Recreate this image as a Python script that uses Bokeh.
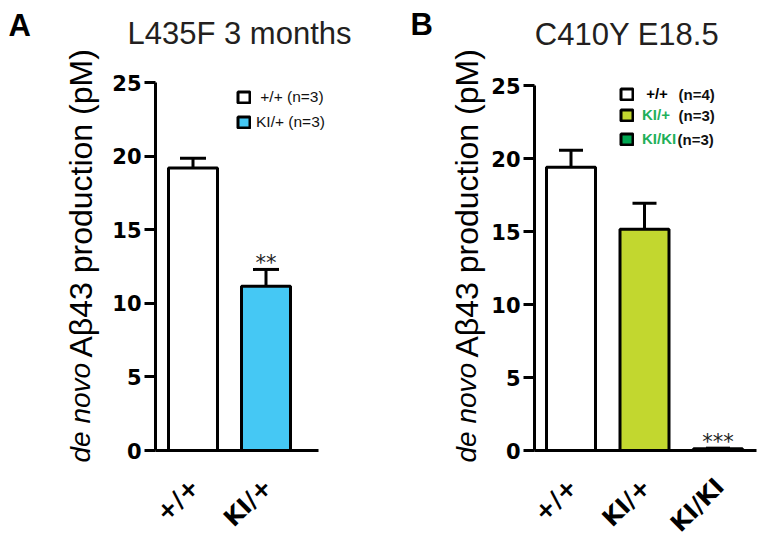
import math
from bokeh.plotting import figure
from bokeh.models import (ColumnDataSource, Range1d, FixedTicker, Whisker, TeeHead,
                          Label, LabelSet, Legend, LegendItem, LinearAxis)
from bokeh.layouts import row
from bokeh.core.properties import value
from bokeh.embed import file_html
from bokeh.resources import INLINE

# ---------------- data ----------------
a_letter = "A"
a_title = "L435F 3 months"
a_genotypes = ["+/+", "KI/+"]
a_means = [19.2, 11.15]
a_sems = [0.65, 1.15]
a_ns = [3, 3]
a_stars = ["", "**"]
a_colors = ["#ffffff", "#45c8f4"]

b_letter = "B"
b_title = "C410Y E18.5"
b_genotypes = ["+/+", "KI/+", "KI/KI"]
b_means = [19.4, 15.15, 0.12]
b_sems = [1.17, 1.78, 0.04]
b_ns = [4, 3, 3]
b_stars = ["", "", "***"]
b_colors = ["#ffffff", "#c2d72f", "#00a651"]
b_text_colors = ["#000000", "#1fb05a", "#1fb05a"]

y_ticks = [0, 5, 10, 15, 20, 25]
y_min, y_max = 0, 25
y_label_italic = "de novo"
y_label_rest = "A\u03b243 production (pM)"

SANS = "Liberation Sans"
WIDE = "DejaVu Sans"
H = 540


class Panel:
    """Figure whose frame is the whole canvas; axes are fixed inside it."""

    def __init__(self, width, cx0, ux, y0, uy, axis_px, xaxis_end_px):
        self.width, self.ux, self.uy = width, ux, uy
        self.x_start = -cx0 / ux
        self.y_top = y0 / uy
        self.p = figure(width=width, height=H, output_backend="svg", toolbar_location=None,
                        x_range=Range1d(self.x_start, self.x_start + width / ux),
                        y_range=Range1d(self.y_top - H / uy, self.y_top),
                        x_axis_type=None, y_axis_type=None,
                        min_border=0, min_border_left=0, min_border_right=0,
                        min_border_top=0, min_border_bottom=0)
        p = self.p
        p.outline_line_color = None
        p.grid.visible = False
        p.background_fill_color = "white"
        p.border_fill_color = "white"
        self.axis_x = self.X(axis_px)
        self.xaxis_end = self.X(xaxis_end_px)

    def X(self, px):
        return self.x_start + px / self.ux

    def Y(self, py):
        return self.y_top - py / self.uy


def build(panel, letter, title, genos, means, sems, stars, colors,
          letter_px, title_px, ylab_px, cap):
    p = panel.p
    xs = list(range(len(genos)))
    src = ColumnDataSource(dict(
        x=xs, geno=genos, mean=means,
        upper=[m + s for m, s in zip(means, sems)],
        star=stars, color=colors))

    yaxis = LinearAxis(fixed_location=panel.axis_x, bounds=(y_min, y_max),
                       ticker=FixedTicker(ticks=y_ticks),
                       axis_line_width=3, major_tick_line_width=3,
                       major_tick_out=11, major_tick_in=0,
                       minor_tick_line_color=None, major_label_standoff=3,
                       major_label_text_font=WIDE, major_label_text_font_style="bold",
                       major_label_text_font_size="21px", major_label_text_color="black")
    p.add_layout(yaxis, "left")
    xaxis = LinearAxis(fixed_location=y_min, bounds=(panel.axis_x, panel.xaxis_end),
                       ticker=FixedTicker(ticks=[]), axis_line_width=3,
                       major_tick_line_color=None, minor_tick_line_color=None)
    p.add_layout(xaxis, "below")

    bars = p.vbar(x="x", top="mean", bottom=y_min, width=49 / panel.ux, source=src,
                  fill_color="color", line_color="black", line_width=3)
    p.add_layout(Whisker(source=src, base="x", upper="upper", lower="mean",
                         dimension="height", line_width=3, line_color="black",
                         upper_head=TeeHead(size=cap, line_width=3, line_color="black"),
                         lower_head=None))
    p.add_layout(LabelSet(x="x", y="upper", text="star", source=src, y_offset=-1,
                          text_align="center", text_baseline="alphabetic",
                          text_font=value(WIDE), text_font_size="21px", text_color="#222222"))

    # rotated category labels
    p.add_layout(LabelSet(x="x", y=y_min, text="geno", source=src, angle=math.pi / 4,
                          text_align="right", text_baseline="middle",
                          x_offset=2, y_offset=-32,
                          text_font=value(WIDE), text_font_style="bold",
                          text_font_size="24px", text_color="black"))

    # letter, title
    p.add_layout(Label(x=panel.X(letter_px[0]), y=panel.Y(letter_px[1]), text=letter,
                       text_font=SANS, text_font_style="bold", text_font_size="31px",
                       text_baseline="middle", text_align="left", text_color="black"))
    p.add_layout(Label(x=panel.X(title_px[0]), y=panel.Y(title_px[1]), text=title,
                       text_font=SANS, text_font_size="31px", text_align="center",
                       text_baseline="middle", text_color="#231f20"))
    # y-axis title: italic part + regular part
    p.add_layout(Label(x=panel.X(ylab_px), y=panel.Y(462), text=y_label_italic,
                       angle=math.pi / 2, text_align="left", text_baseline="middle",
                       text_font=SANS, text_font_style="italic", text_font_size="28px",
                       text_color="black"))
    p.add_layout(Label(x=panel.X(ylab_px), y=panel.Y(357), text=y_label_rest,
                       angle=math.pi / 2, text_align="left", text_baseline="middle",
                       text_font=SANS, text_font_size="32px", text_color="black"))
    return bars


def small_legend(items, loc, font_style, color, size, standoff):
    return Legend(items=items, location=loc, glyph_width=15, glyph_height=14,
                  label_standoff=standoff, spacing=7, padding=0, margin=0,
                  label_height=14, label_width=10,
                  border_line_color=None, background_fill_alpha=0,
                  label_text_font=SANS, label_text_font_style=font_style,
                  label_text_font_size=size, label_text_color=color)


# ---------------- panel A ----------------
PA = Panel(width=386, cx0=192.5, ux=73.0, y0=450, uy=14.72, axis_px=155, xaxis_end_px=318)
barsA = build(PA, a_letter, a_title, a_genotypes, a_means, a_sems, a_stars, a_colors,
              letter_px=(8, 24.5), title_px=(239, 32.5), ylab_px=80, cap=26)
itemsA = []
for i, (g, n) in enumerate(zip(a_genotypes, a_ns)):
    lab = f"{g} (n={n})"
    if i == 0:
        lab = "\u00a0" + lab
    itemsA.append(LegendItem(label=lab, renderers=[barsA], index=i))
PA.p.add_layout(small_legend(itemsA, (236, H - 131), "normal", "#111111", "15.5px", 5))

# ---------------- panel B ----------------
PB = Panel(width=378, cx0=184.5, ux=73.5, y0=450, uy=14.6, axis_px=148, xaxis_end_px=370)
barsB = build(PB, b_letter, b_title, b_genotypes, b_means, b_sems, b_stars, b_colors,
              letter_px=(24, 24), title_px=(240.5, 33.5), ylab_px=80, cap=24)
b_leg_bottom = [102, 123, 147]
b_n_y = [94, 115, 139]
b_n_x = [292, 292, 291]
for i, (g, n) in enumerate(zip(b_genotypes, b_ns)):
    lab = g if i else "\u00a0" + g
    PB.p.add_layout(small_legend([LegendItem(label=lab, renderers=[barsB], index=i)],
                                 (233, H - b_leg_bottom[i]), "bold", b_text_colors[i],
                                 "15px", 8))
    PB.p.add_layout(Label(x=PB.X(b_n_x[i]), y=PB.Y(b_n_y[i]),
                          text=f"(n={n})", text_font=SANS, text_font_style="bold",
                          text_font_size="15px", text_baseline="middle", text_align="left",
                          text_color="#111111"))

layout = row(PA.p, PB.p)
open("out.html", "w").write(file_html(layout, INLINE))
